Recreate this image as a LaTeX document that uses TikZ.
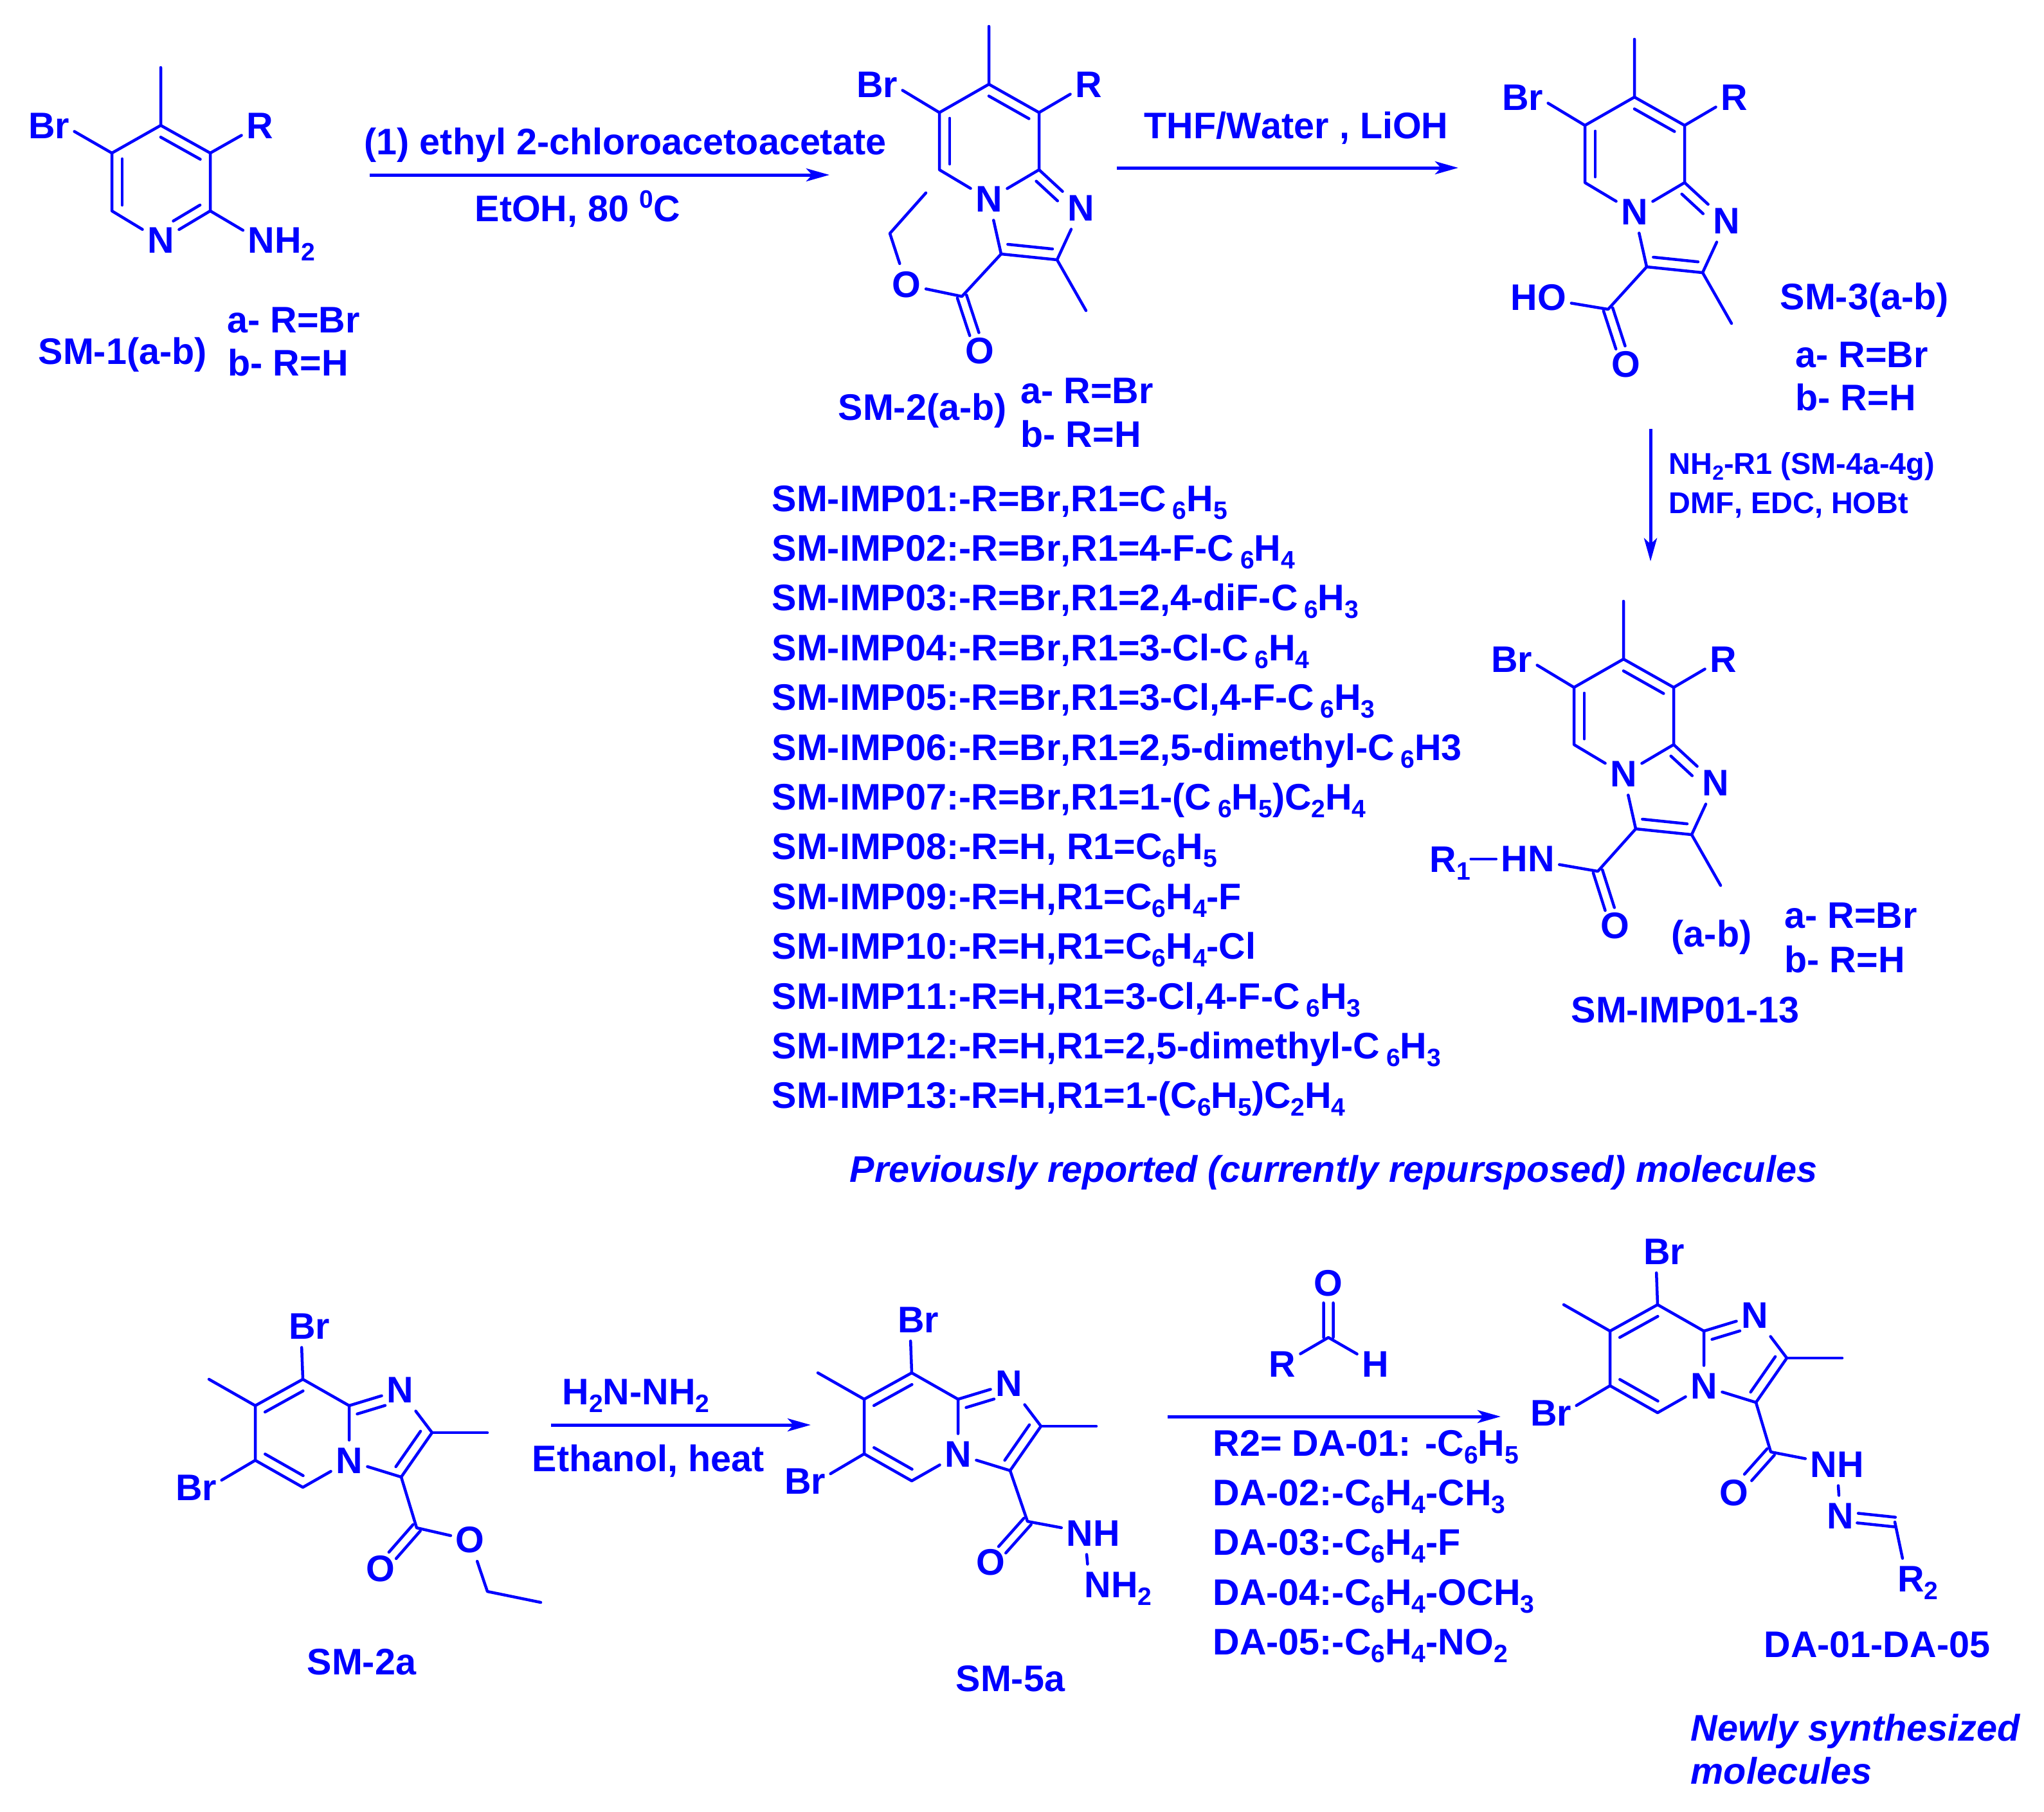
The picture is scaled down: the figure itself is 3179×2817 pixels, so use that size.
\documentclass[tikz,border=0pt]{standalone}
\usepackage{fontspec}
\setmainfont{Liberation Sans}[Kerning=Off]
\usetikzlibrary{arrows.meta,calc,positioning}
\definecolor{chemblue}{RGB}{0,0,255}

\tikzset{
  bond/.style={line width=.045cm, line cap=round, line join=round, draw=chemblue},
  rxnarrow/.style={line width=.05cm, draw=chemblue, -{Stealth[length=.36cm,width=.2cm,inset=.09cm]}},
  lab/.style={anchor=base west, inner sep=0pt, text=chemblue, font=\bfseries\fontsize{16.35}{19}\selectfont},
  small lab/.style={lab, font=\bfseries\fontsize{13.32}{16}\selectfont},
  ital lab/.style={lab, font=\bfseries\itshape\fontsize{16.38}{19}\selectfont},
  atom/.style={anchor=center, inner xsep=.07cm, inner ysep=.12cm, text=chemblue, font=\bfseries\fontsize{16.35}{19}\selectfont}
}

\newcommand{\subs}[1]{\raisebox{-.21em}{\scalebox{.68}{#1}}}
\newcommand{\supr}[1]{\raisebox{.35em}{\scalebox{.68}{#1}}}

% inner stroke of a ring double bond
\newcommand{\dblin}[4][.1]{\draw[bond] ($(#2)!.1!(#3)!.16cm!#4:(#3)$) -- ($(#3)!#1!(#2)!.16cm!-#4:(#2)$);}
% carbonyl style double bond
\newcommand{\dblsym}[3]{
  \draw[bond] ($(#1)!.075cm!90:(#2)$) -- ($(#1)!#3!(#2)!.075cm!90:(#2)$);
  \draw[bond] ($(#1)!.075cm!-90:(#2)$) -- ($(#1)!#3!(#2)!.075cm!-90:(#2)$);
}

% bicycle of the upper row
\newcommand{\imidtop}[3]{
  \begin{scope}[shift={(#2,#3)}]
    \path (1538,41) coordinate (#1me) (1538,131) coordinate (#1c7) (1461,175) coordinate (#1c6)
          (1461,264) coordinate (#1c5) (1616,264) coordinate (#1c9) (1616,175) coordinate (#1c8)
          (1644,404) coordinate (#1c2) (1557,395) coordinate (#1c3) (1689,483) coordinate (#1mf);
    \node[atom] (#1n4) at (1538,310) {N};
    \node[atom] (#1n1) at (1681,324) {N};
    \node[atom] (#1br) at (1364,132) {Br};
    \node[atom] (#1r) at (1693,132) {R};
    \draw[bond] (#1me) -- (#1c7) -- (#1c6) -- (#1c5) -- (#1n4) -- (#1c9) -- (#1c8) -- (#1c7);
    \draw[bond] (#1c9) -- (#1n1) -- (#1c2) -- (#1c3) -- (#1n4);
    \draw[bond] (#1c2) -- (#1mf);
    \draw[bond] (#1c6) -- (#1br.-12);
    \draw[bond] (#1c8) -- (#1r.207);
    \dblin{#1c7}{#1c8}{-90}
    \dblin{#1c5}{#1c6}{-90}
    \dblin{#1c3}{#1c2}{90}
    \dblin[.39]{#1c9}{#1n1}{-90}
  \end{scope}
}

% bicycle of the lower row
\newcommand{\imidlow}[3]{
  \begin{scope}[shift={(#2,#3)}]
    \path (471,2145) coordinate (#1c8) (543,2186) coordinate (#1c9) (471,2313) coordinate (#1c5)
          (397,2271) coordinate (#1c6) (397,2186) coordinate (#1c7) (325,2145) coordinate (#1me)
          (672,2228) coordinate (#1c2) (758,2228) coordinate (#1mf) (624,2297) coordinate (#1c3);
    \node[atom] (#1n4) at (543,2272) {N};
    \node[atom] (#1n1) at (622,2162) {N};
    \node[atom] (#1bt) at (481,2063) {Br};
    \node[atom] (#1bl) at (305,2314) {Br};
    \draw[bond] (#1me) -- (#1c7) -- (#1c8) -- (#1c9) -- (#1n4) -- (#1c5) -- (#1c6) -- (#1c7);
    \draw[bond] (#1c9) -- (#1n1) -- (#1c2) -- (#1c3) -- (#1n4);
    \draw[bond] (#1c2) -- (#1mf);
    \draw[bond] (#1c8) -- (#1bt.-110);
    \draw[bond] (#1c6) -- (#1bl.17);
    \dblin{#1c7}{#1c8}{-90}
    \dblin{#1c6}{#1c5}{90}
    \dblin{#1c2}{#1c3}{-90}
    \dblin[.35]{#1c9}{#1n1}{-90}
  \end{scope}
}

\begin{document}
\begin{tikzpicture}[x=.01cm, y=-.01cm]
  \useasboundingbox (0,0) rectangle (3179,2817);

  % SM-1
  \path (250,105) coordinate (amo) (250,195) coordinate (ac4) (174,238) coordinate (ac5)
        (174,328) coordinate (ac6) (327,328) coordinate (ac2) (327,238) coordinate (ac3);
  \node[atom] (an1) at (250,374) {N};
  \node[atom] (abr) at (76,196) {Br};
  \node[atom] (ar) at (404,196) {R};
  \node[atom] (anh) at (438,380) {NH\subs{2}};
  \draw[bond] (amo) -- (ac4) -- (ac5) -- (ac6) -- (an1) -- (ac2) -- (ac3) -- (ac4);
  \draw[bond] (ac5) -- (abr.-12);
  \draw[bond] (ac3) -- (ar.207);
  \draw[bond] (ac2) -- (anh.160);
  \dblin{ac4}{ac3}{-90}
  \dblin{ac6}{ac5}{-90}
  \dblin[.36]{ac2}{an1}{-90}
  \node[lab] (alab) at (59,566) {SM-1(a-b)};
  \node[lab] (aa) at (353,517) {a- R=Br};
  \node[lab] (ab) at (354,584) {b- R=H};

  % first reaction arrow
  \coordinate (r1s) at (575,272);
  \coordinate (r1e) at (1290,272);
  \draw[rxnarrow] (r1s) -- (r1e);
  \node[lab] (r1t) at (566,240) {(1) ethyl 2-chloroacetoacetate};
  \node[lab] (r1b) at (738,344) {EtOH, 80 \supr{0}C};

  % SM-2
  \imidtop{b}{0}{0}
  \coordinate (bco) at (1496,461);
  \coordinate (bch) at (1384,363);
  \coordinate (bcm) at (1440,300);
  \node[atom] (boe) at (1410,443) {O};
  \node[atom] (bok) at (1524,546) {O};
  \draw[bond] (bc3) -- (bco) -- (boe) -- (bch) -- (bcm);
  \dblsym{bco}{bok}{.69}
  \node[lab] (blab) at (1303,653) {SM-2(a-b)};
  \node[lab] (ba) at (1587,627) {a- R=Br};
  \node[lab] (bb) at (1587,695) {b- R=H};

  % second reaction arrow
  \coordinate (r2s) at (1737,261);
  \coordinate (r2e) at (2268,261);
  \draw[rxnarrow] (r2s) -- (r2e);
  \node[lab] (r2t) at (1779,215) {THF/Water , LiOH};

  % SM-3
  \imidtop{c}{1004}{20}
  \coordinate (cco) at (2501,481);
  \node[atom] (cho) at (2393,463) {HO};
  \node[atom] (cok) at (2529,567) {O};
  \draw[bond] (cc3) -- (cco) -- (cho);
  \dblsym{cco}{cok}{.69}
  \node[lab] (clab) at (2768,481) {SM-3(a-b)};
  \node[lab] (ca) at (2792,571) {a- R=Br};
  \node[lab] (cb) at (2792,638) {b- R=H};

  % coupling arrow
  \coordinate (r3s) at (2567,667);
  \coordinate (r3e) at (2567,873);
  \draw[rxnarrow] (r3s) -- (r3e);
  \node[small lab] (r3t) at (2595,737) {NH\subs{2}-R1 (SM-4a-4g)};
  \node[small lab] (r3b) at (2595,798) {DMF, EDC, HOBt};

  % SM-IMP
  \imidtop{d}{987}{894}
  \coordinate (dco) at (2485,1355);
  \node[atom] (dhn) at (2376,1336) {HN};
  \node[atom] (dok) at (2512,1440) {O};
  \node[lab] (drr) at (2223,1356) {R\subs{1}};
  \draw[bond] (dc3) -- (dco) -- (dhn);
  \draw[bond] (drr.east |- dhn.west) -- (dhn.west);
  \dblsym{dco}{dok}{.69}
  \node[lab] (dsub) at (2599,1472) {(a-b)};
  \node[lab] (da) at (2775,1443) {a- R=Br};
  \node[lab] (db) at (2775,1512) {b- R=H};
  \node[lab] (dlab) at (2443,1590) {SM-IMP01-13};

  % compound table
  \foreach \i/\txt in {
    1/{SM-IMP01:-R=Br,R1=C\,\subs{6}H\subs{5}},
    2/{SM-IMP02:-R=Br,R1=4-F-C\,\subs{6}H\subs{4}},
    3/{SM-IMP03:-R=Br,R1=2,4-diF-C\,\subs{6}H\subs{3}},
    4/{SM-IMP04:-R=Br,R1=3-Cl-C\,\subs{6}H\subs{4}},
    5/{SM-IMP05:-R=Br,R1=3-Cl,4-F-C\,\subs{6}H\subs{3}},
    6/{SM-IMP06:-R=Br,R1=2,5-dimethyl-C\,\subs{6}H3},
    7/{SM-IMP07:-R=Br,R1=1-(C\,\subs{6}H\subs{5})C\subs{2}H\subs{4}},
    8/{SM-IMP08:-R=H, R1=C\subs{6}H\subs{5}},
    9/{SM-IMP09:-R=H,R1=C\subs{6}H\subs{4}-F},
    10/{SM-IMP10:-R=H,R1=C\subs{6}H\subs{4}-Cl},
    11/{SM-IMP11:-R=H,R1=3-Cl,4-F-C\,\subs{6}H\subs{3}},
    12/{SM-IMP12:-R=H,R1=2,5-dimethyl-C\,\subs{6}H\subs{3}},
    13/{SM-IMP13:-R=H,R1=1-(C\subs{6}H\subs{5})C\subs{2}H\subs{4}}}
    {
      \node[lab] (imp\i) at (1200,717.6+77.4*\i) {\txt};
    }
  \node[ital lab] (prev) at (1321,1838) {Previously reported (currently repursposed) molecules};

  % SM-2a
  \imidlow{e}{0}{0}
  \coordinate (eco) at (648,2376);
  \coordinate (ech) at (758,2475);
  \coordinate (ecm) at (841,2492);
  \node[atom] (eoe) at (731,2395) {O};
  \node[atom] (eok) at (592,2440) {O};
  \draw[bond] (ec3) -- (eco) -- (eoe) -- (ech) -- (ecm);
  \dblsym{eco}{eok}{.67}
  \node[lab] (elab) at (477,2604) {SM-2a};

  % hydrazine arrow
  \coordinate (r4s) at (857,2216);
  \coordinate (r4e) at (1261,2216);
  \draw[rxnarrow] (r4s) -- (r4e);
  \node[lab] (r4t) at (874,2184) {H\subs{2}N-NH\subs{2}};
  \node[lab] (r4b) at (827,2288) {Ethanol, heat};

  % SM-5a
  \imidlow{f}{947}{-10}
  \coordinate (fco) at (1598,2366);
  \node[atom] (fok) at (1541,2430) {O};
  \node[atom] (fnh) at (1700,2385) {NH};
  \node[atom] (fnn) at (1739,2471) {NH\subs{2}};
  \draw[bond] (fc3) -- (fco) -- (fnh);
  \draw[bond] (fnh.-107) -- (fnn.141);
  \dblsym{fco}{fok}{.69}
  \node[lab] (flab) at (1486,2630) {SM-5a};

  % aldehyde and last arrow
  \coordinate (gco) at (2066,2080);
  \node[atom] (gok) at (2066,1996) {O};
  \node[atom] (grr) at (1994,2122) {R};
  \node[atom] (ghh) at (2139,2122) {H};
  \draw[bond] (grr) -- (gco) -- (ghh);
  \dblsym{gco}{gok}{.64}
  \coordinate (r5s) at (1816,2203);
  \coordinate (r5e) at (2334,2203);
  \draw[rxnarrow] (r5s) -- (r5e);
  \foreach \i/\txt in {
    0/{R2= DA-01: -C\subs{6}H\subs{5}},
    1/{DA-02:-C\subs{6}H\subs{4}-CH\subs{3}},
    2/{DA-03:-C\subs{6}H\subs{4}-F},
    3/{DA-04:-C\subs{6}H\subs{4}-OCH\subs{3}},
    4/{DA-05:-C\subs{6}H\subs{4}-NO\subs{2}}}
    {
      \node[lab] (dal\i) at (1886,2264+77.4*\i) {\txt};
    }

  % DA-01 to DA-05
  \imidlow{h}{2107}{-116}
  \coordinate (hco) at (2754,2258);
  \coordinate (hcn) at (2947,2367);
  \node[atom] (hok) at (2697,2322) {O};
  \node[atom] (hnh) at (2857,2278) {NH};
  \node[atom] (hnn) at (2862,2358) {N};
  \node[atom] (hrr) at (2983,2462) {R\subs{2}};
  \draw[bond] (hc3) -- (hco) -- (hnh) -- (hnn);
  \draw[bond] (hcn) -- (hrr.122);
  \dblsym{hco}{hok}{.62}
  \dblsym{hcn}{hnn}{.68}
  \node[lab] (hlab) at (2743,2577) {DA-01-DA-05};
  \node[ital lab] (newa) at (2629,2707) {Newly synthesized};
  \node[ital lab] (newb) at (2629,2774) {molecules};
\end{tikzpicture}
\end{document}
